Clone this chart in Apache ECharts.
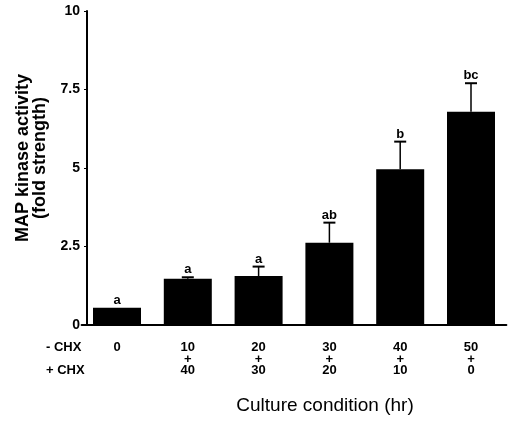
<!DOCTYPE html>
<html><head><meta charset="utf-8">
<script src="https://cdn.jsdelivr.net/npm/echarts@6/dist/echarts.min.js"></script>
<style>html,body{margin:0;padding:0;background:#fff}#c{width:513px;height:422px}</style>
</head><body><div id="c"></div>
<script>
const categories = ['0', '10\n+\n40', '20\n+\n30', '30\n+\n20', '40\n+\n10', '50\n+\n0'];
const values = [0.55, 1.47, 1.56, 2.62, 4.96, 6.79];
const errors = [0.0, 0.05, 0.30, 0.64, 0.88, 0.91];
const letters = ['a', 'a', 'a', 'ab', 'b', 'bc'];
const yTicks = [0, 2.5, 5, 7.5, 10];

const font = '"Liberation Sans", Arial, sans-serif';
const chart = echarts.init(document.getElementById('c'));
chart.setOption({
  animation: false,
  grid: { left: 81.6, right: 6.6, top: 11, bottom: 97 },
  xAxis: {
    type: 'category', data: categories,
    axisLine: { lineStyle: { color: '#000', width: 2 } },
    axisTick: { alignWithLabel: true, length: 4, lineStyle: { color: '#000', width: 1 } },
    axisLabel: { color: '#000', fontFamily: font, fontWeight: 'bold', fontSize: 13, lineHeight: 11.5, margin: 17 },
    name: 'Culture condition (hr)', nameLocation: 'middle', nameGap: 71,
    nameTextStyle: { color: '#000', fontFamily: font, fontSize: 19, padding: [0, 0, 0, 62] }
  },
  yAxis: {
    type: 'value', min: 0, max: 10, interval: 2.5, offset: -5.4,
    axisLine: { show: true, lineStyle: { color: '#000', width: 2 } },
    axisTick: { show: true, length: 3, lineStyle: { color: '#000' } },
    splitLine: { show: false },
    axisLabel: { color: '#000', fontFamily: font, fontWeight: 'bold', fontSize: 14, margin: 7,
      formatter: v => yTicks.includes(v) ? String(v) : '' },
    name: 'MAP kinase activity\n(fold strength)', nameLocation: 'middle', nameGap: 38,
    nameTextStyle: { color: '#000', fontFamily: font, fontWeight: 'bold', fontSize: 18, lineHeight: 17, padding: [0, 0, 0, 20] }
  },
  graphic: [
    { type: 'text', left: 46, top: 341, style: { text: '- CHX', fill: '#000', font: 'bold 13px ' + font } },
    { type: 'text', left: 46, top: 364, style: { text: '+ CHX', fill: '#000', font: 'bold 13px ' + font } }
  ],
  series: [
    { type: 'bar', data: values, barWidth: 48, itemStyle: { color: '#000' }, z: 2 },
    {
      type: 'custom', z: 3,
      data: values.map((v, i) => [i, v, errors[i]]),
      renderItem: (params, api) => {
        const i = api.value(0), v = api.value(1), e = api.value(2);
        const base = api.coord([i, v]);
        const top = api.coord([i, v + e]);
        const children = [];
        if (e > 0) {
          children.push({ type: 'line', shape: { x1: base[0], y1: base[1], x2: top[0], y2: top[1] }, style: { stroke: '#000', lineWidth: 1.5 } });
          children.push({ type: 'line', shape: { x1: top[0] - 6, y1: top[1], x2: top[0] + 6, y2: top[1] }, style: { stroke: '#000', lineWidth: 2 } });
        }
        children.push({ type: 'text', x: top[0], y: top[1] - 1, style: { text: letters[params.dataIndex], fill: '#000', font: 'bold 13px ' + font, align: 'center', verticalAlign: 'bottom' } });
        return { type: 'group', children };
      }
    }
  ]
});
</script></body></html>
